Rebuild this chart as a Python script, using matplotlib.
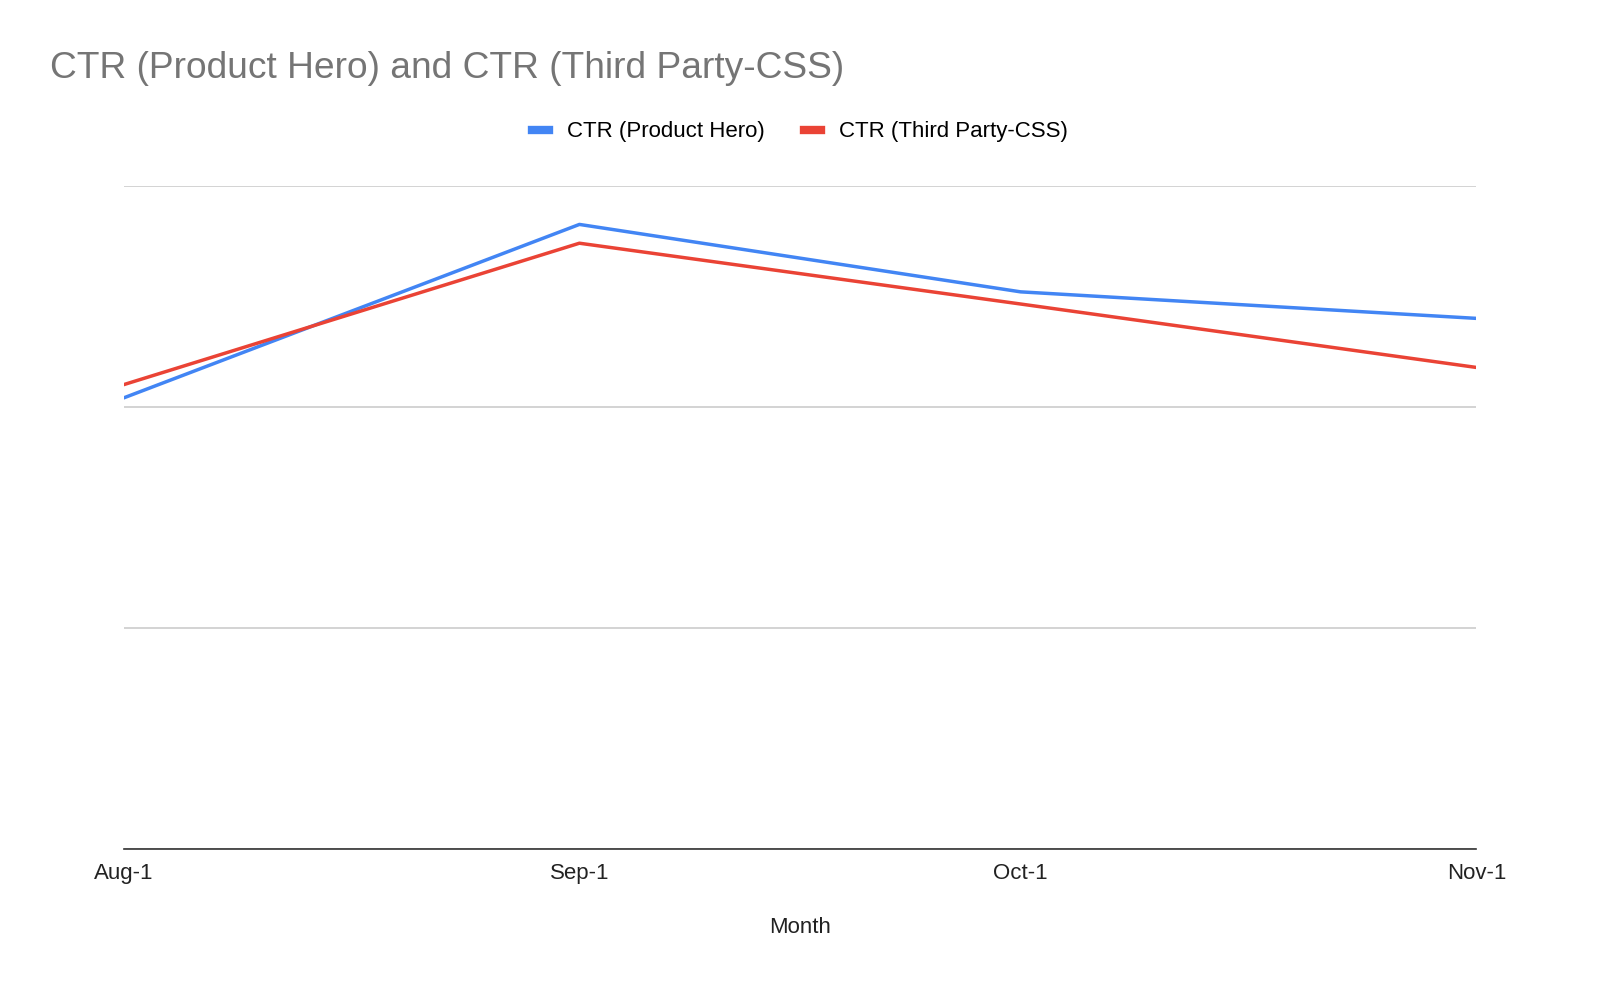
import matplotlib
matplotlib.use("Agg")
import matplotlib.pyplot as plt
import matplotlib.dates as mdates
import datetime as dt

plt.rcParams['font.family'] = ['Liberation Sans', 'DejaVu Sans']

months = ["Aug-1", "Sep-1", "Oct-1", "Nov-1"]
month_dates = [dt.date(2023, 8, 1), dt.date(2023, 9, 1), dt.date(2023, 10, 1), dt.date(2023, 11, 1)]
ctr_product_hero = [2.04, 2.825, 2.52, 2.40]
ctr_third_party = [2.10, 2.74, 2.465, 2.178]

fig = plt.figure(figsize=(16, 9.89), dpi=100)
ax = fig.add_axes([0.0772, 0.1416, 0.8456, 0.6706])

x = mdates.date2num(month_dates)
ax.plot(x, ctr_product_hero, color="#4285F4", lw=2.5, label="CTR (Product Hero)")
ax.plot(x, ctr_third_party, color="#EA4335", lw=2.5, label="CTR (Third Party-CSS)")

ax.set_xlim(x[0], x[-1])
ax.set_ylim(0, 3)
ax.set_yticks([0, 1, 2, 3])
ax.set_yticklabels([])
ax.tick_params(axis='y', length=0)
ax.grid(axis='y', color="#cccccc", lw=1.2)
ax.set_axisbelow(True)
for s in ['top', 'right', 'left']:
    ax.spines[s].set_visible(False)
ax.spines['bottom'].set_color('#333333')
ax.spines['bottom'].set_linewidth(1.2)

ax.set_xticks(x)
ax.set_xticklabels(months, fontsize=16, color="#222222")
ax.tick_params(axis='x', length=0, pad=10)
ax.set_xlabel("Month", fontsize=16, color="#222222", labelpad=24)

fig.text(50 / 1600, 1 - 69 / 989, "CTR (Product Hero) and CTR (Third Party-CSS)",
         fontsize=26.7, color="#757575", va='center', ha='left')

leg = ax.legend(loc='center', bbox_to_anchor=(0.5, (989 - 132) / 989), bbox_transform=fig.transFigure,
                ncol=2, frameon=False, fontsize=16, handlelength=0.75, handleheight=0.6,
                columnspacing=1.8, handletextpad=0.8)
for h in leg.get_lines():
    h.set_linewidth(6)

fig.savefig("out.png", dpi=100, facecolor="white")
